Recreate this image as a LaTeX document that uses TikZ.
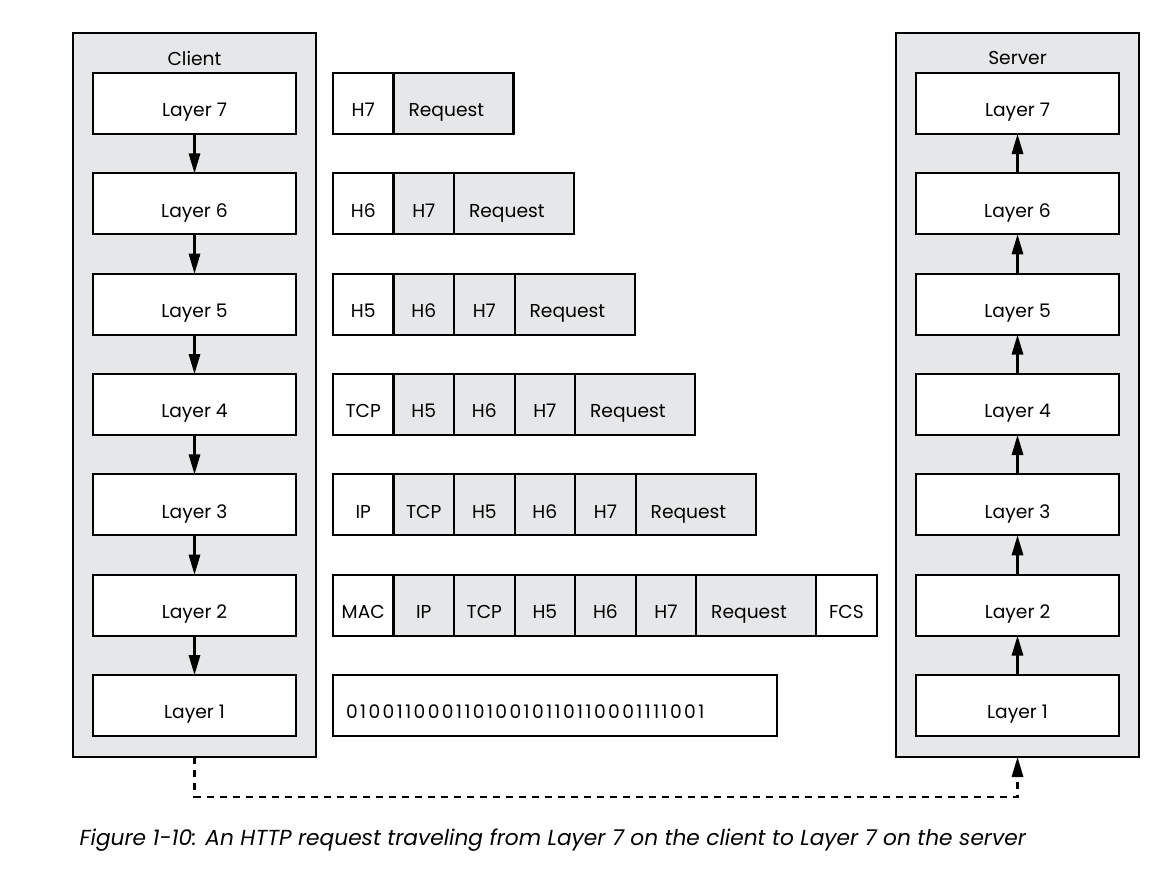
\documentclass[tikz,border=0pt]{standalone}
\usepackage{fontspec}
\setmainfont{Poppins}
\usetikzlibrary{arrows.meta,positioning}
\definecolor{boxgray}{HTML}{E6E7E8}
\begin{document}
\begin{tikzpicture}[x=0.75pt,y=-0.75pt,font=\fontsize{14}{16}\selectfont]

\tikzstyle{hostnode}=[rectangle,inner sep=0mm,outer sep=0pt,minimum width=182.25pt,minimum height=543pt,line width=1.6pt,draw,fill=boxgray]
\tikzstyle{layernode}=[rectangle,inner sep=0mm,outer sep=0pt,minimum width=152.25pt,minimum height=45.75pt,line width=1.6pt,draw,fill=white,text height=20pt,text depth=0pt]
\tikzstyle{hdrnode}=[rectangle,inner sep=0mm,outer sep=0pt,minimum width=45.4pt,minimum height=45.75pt,line width=1.6pt,draw,fill=boxgray,text height=20pt,text depth=0pt]
\tikzstyle{outnode}=[hdrnode,fill=white]
\tikzstyle{reqnode}=[hdrnode,minimum width=90pt,text width=67.5pt,inner xsep=11.25pt,align=left]
\tikzstyle{bitnode}=[outnode,text width=313.5pt,inner xsep=9.75pt,align=left,font=\fontsize{14}{16}\selectfont\addfontfeatures{Numbers=Monospaced,LetterSpace=13}]
\tikzstyle{stepline}=[-{Triangle[length=15pt,width=8.5pt]},line width=1.6pt]

\useasboundingbox (0,0) rectangle (1170,874);

\begin{scope}[]

% client stack
\node [anchor=north west,hostnode] (client) at (73,33){};
\node [anchor=center] (clientlbl) at ([yshift=-18.75pt]client.north){Client};
\node [anchor=north,layernode] (c7) at ([yshift=-30pt]client.north){Layer 7};
\node [anchor=north,layernode] (c6) at ([yshift=-29.5pt]c7.south){Layer 6};
\node [anchor=north,layernode] (c5) at ([yshift=-29.5pt]c6.south){Layer 5};
\node [anchor=north,layernode] (c4) at ([yshift=-29.5pt]c5.south){Layer 4};
\node [anchor=north,layernode] (c3) at ([yshift=-29.5pt]c4.south){Layer 3};
\node [anchor=north,layernode] (c2) at ([yshift=-29.5pt]c3.south){Layer 2};
\node [anchor=north,layernode] (c1) at ([yshift=-29.5pt]c2.south){Layer 1};

% server stack
\node [anchor=north west,hostnode] (server) at (896,33){};
\node [anchor=center] (serverlbl) at ([yshift=-18.75pt]server.north){Server};
\node [anchor=north,layernode] (s7) at ([yshift=-30pt]server.north){Layer 7};
\node [anchor=north,layernode] (s6) at ([yshift=-29.5pt]s7.south){Layer 6};
\node [anchor=north,layernode] (s5) at ([yshift=-29.5pt]s6.south){Layer 5};
\node [anchor=north,layernode] (s4) at ([yshift=-29.5pt]s5.south){Layer 4};
\node [anchor=north,layernode] (s3) at ([yshift=-29.5pt]s4.south){Layer 3};
\node [anchor=north,layernode] (s2) at ([yshift=-29.5pt]s3.south){Layer 2};
\node [anchor=north,layernode] (s1) at ([yshift=-29.5pt]s2.south){Layer 1};

% packets
\node [anchor=north west,outnode] (p7h7) at ([xshift=27.75pt]c7.north east){H7};
\node [anchor=west,reqnode] (p7rq) at (p7h7.east){Request};

\node [anchor=north west,outnode] (p6h6) at ([xshift=27.75pt]c6.north east){H6};
\node [anchor=west,hdrnode] (p6h7) at (p6h6.east){H7};
\node [anchor=west,reqnode] (p6rq) at (p6h7.east){Request};

\node [anchor=north west,outnode] (p5h5) at ([xshift=27.75pt]c5.north east){H5};
\node [anchor=west,hdrnode] (p5h6) at (p5h5.east){H6};
\node [anchor=west,hdrnode] (p5h7) at (p5h6.east){H7};
\node [anchor=west,reqnode] (p5rq) at (p5h7.east){Request};

\node [anchor=north west,outnode] (p4tcp) at ([xshift=27.75pt]c4.north east){TCP};
\node [anchor=west,hdrnode] (p4h5) at (p4tcp.east){H5};
\node [anchor=west,hdrnode] (p4h6) at (p4h5.east){H6};
\node [anchor=west,hdrnode] (p4h7) at (p4h6.east){H7};
\node [anchor=west,reqnode] (p4rq) at (p4h7.east){Request};

\node [anchor=north west,outnode] (p3ip) at ([xshift=27.75pt]c3.north east){IP};
\node [anchor=west,hdrnode] (p3tcp) at (p3ip.east){TCP};
\node [anchor=west,hdrnode] (p3h5) at (p3tcp.east){H5};
\node [anchor=west,hdrnode] (p3h6) at (p3h5.east){H6};
\node [anchor=west,hdrnode] (p3h7) at (p3h6.east){H7};
\node [anchor=west,reqnode] (p3rq) at (p3h7.east){Request};

\node [anchor=north west,outnode] (p2mac) at ([xshift=27.75pt]c2.north east){MAC};
\node [anchor=west,hdrnode] (p2ip) at (p2mac.east){IP};
\node [anchor=west,hdrnode] (p2tcp) at (p2ip.east){TCP};
\node [anchor=west,hdrnode] (p2h5) at (p2tcp.east){H5};
\node [anchor=west,hdrnode] (p2h6) at (p2h5.east){H6};
\node [anchor=west,hdrnode] (p2h7) at (p2h6.east){H7};
\node [anchor=west,reqnode] (p2rq) at (p2h7.east){Request};
\node [anchor=west,outnode] (p2fcs) at (p2rq.east){FCS};

\node [anchor=north west,bitnode] (p1bits) at ([xshift=27.75pt]c1.north east){01001100011010010110110001111001};

% arrows down the client, up the server
\draw[stepline] (c7.south)--(c6.north);
\draw[stepline] (c6.south)--(c5.north);
\draw[stepline] (c5.south)--(c4.north);
\draw[stepline] (c4.south)--(c3.north);
\draw[stepline] (c3.south)--(c2.north);
\draw[stepline] (c2.south)--(c1.north);

\draw[stepline] (s1.north)--(s2.south);
\draw[stepline] (s2.north)--(s3.south);
\draw[stepline] (s3.north)--(s4.south);
\draw[stepline] (s4.north)--(s5.south);
\draw[stepline] (s5.north)--(s6.south);
\draw[stepline] (s6.north)--(s7.south);

% wire
\draw[stepline,dash pattern=on 5.25pt off 4.5pt] (client.south)--([yshift=-30pt]client.south)-|(server.south);

\node [anchor=west,font=\itshape\fontsize{16.3}{19}\selectfont] (caption) at ([xshift=1.5pt,yshift=-62.25pt]client.south west){Figure 1-10: An HTTP request traveling from Layer 7 on the client to Layer 7 on the server};

\end{scope}
\end{tikzpicture}
\end{document}
